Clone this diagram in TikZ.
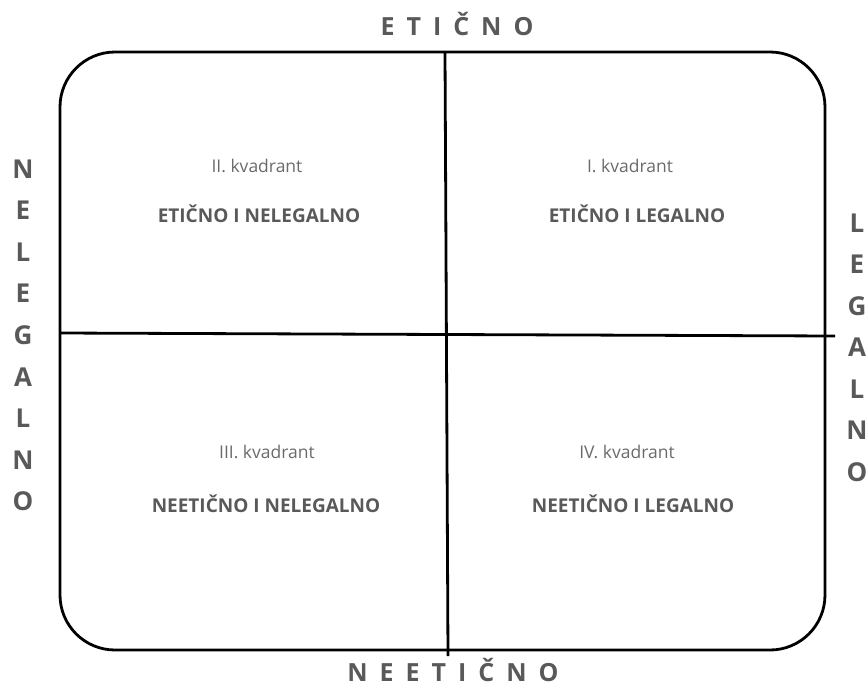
\documentclass[tikz,border=0pt]{standalone}
\usepackage{fontspec}
\setmainfont{Open Sans}
\usepackage{tikz}
\usetikzlibrary{calc}
\definecolor{tekst}{HTML}{595959}
\definecolor{kvtekst}{HTML}{6A6A6A}

\begin{document}
\begin{tikzpicture}
        [x=1pt,y=-1pt,line width=2.8pt]
            \tikzstyle{every node}=[inner sep=0pt, text=tekst, anchor=base]
            \tikzstyle{kvad}=[font=\fontsize{17.5}{20}\selectfont, text=kvtekst]
            \tikzstyle{opis}=[font=\fontsize{19}{22}\selectfont\bfseries]
            \tikzstyle{os}=[font=\fontsize{25}{30}\selectfont\bfseries\addfontfeature{LetterSpace=48}]
            \tikzstyle{slovo}=[font=\fontsize{26}{30}\selectfont\bfseries]
        \useasboundingbox (0,0) rectangle (867,686);
        %-----okvir
        \draw[rounded corners=55pt] (60,52) rectangle (825,650);
        %-----osi
        \coordinate (G) at (445,52);
        \coordinate (D) at (448,656);
        \coordinate (L) at (60,333);
        \coordinate (R) at (835,336);
        \foreach \from/\to in {G/D,L/R}
        \draw (\from) -- (\to);
        %-----natpisi osi
        \node[os] (et) at (457,35) {ETIČNO};
        \node[os] (neet) at (453,681) {NEETIČNO};
        \foreach \s [count=\i from 0] in {N,E,L,E,G,A,L,N,O}
        \node[slovo] (nl\i) at (23,178+41.6*\i) {\s};
        \foreach \s [count=\i from 0] in {L,E,G,A,L,N,O}
        \node[slovo] (dl\i) at (857,232+41.5*\i) {\s};
        %-----kvadranti
        \node[kvad] (k2) at (257,172) {II. kvadrant};
        \node[opis] (o2) at (259,222) {ETIČNO I NELEGALNO};
        \node[kvad] (k1) at (630,172) {I. kvadrant};
        \node[opis] (o1) at (637,222) {ETIČNO I LEGALNO};
        \node[kvad] (k3) at (267,458) {III. kvadrant};
        \node[opis] (o3) at (266,512) {NEETIČNO I NELEGALNO};
        \node[kvad] (k4) at (627,458) {IV. kvadrant};
        \node[opis] (o4) at (633,512) {NEETIČNO I LEGALNO};
        \end{tikzpicture}
\end{document}
